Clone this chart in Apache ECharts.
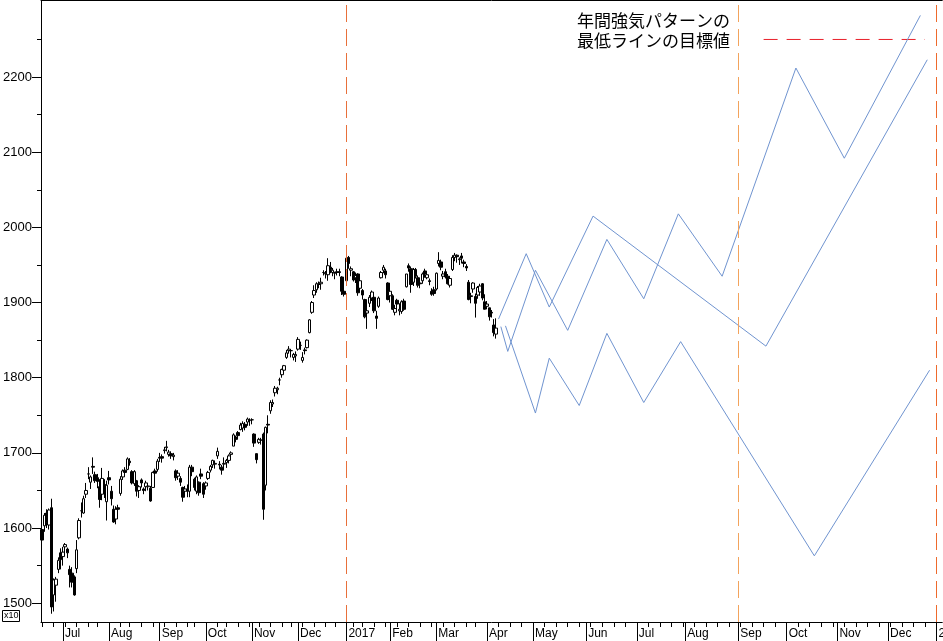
<!DOCTYPE html>
<html><head><meta charset="utf-8">
<script src="https://cdn.jsdelivr.net/npm/echarts@6/dist/echarts.min.js"></script>
<style>html,body{margin:0;padding:0;background:#fff}#c{width:943px;height:641px}</style>
</head><body><div id="c"></div>
<script>
// ---- axis data ----
const startDate = '2016-06-20';
const endDate = '2018-01-03';
const holidays = ['2016-07-18','2016-08-11','2016-09-19','2016-09-22','2016-10-10','2016-11-03','2016-11-23','2016-12-23','2017-01-02','2017-01-03','2017-01-09','2017-03-20'];
const monthNames = ['Jan','Feb','Mar','Apr','May','Jun','Jul','Aug','Sep','Oct','Nov','Dec'];
const yTickLabels = [1500,1600,1700,1800,1900,2000,2100,2200];
const yMinorTicks = [1550,1650,1750,1850,1950,2050,2150,2250];
const titleLines = ['年間強気パターンの','最低ラインの目標値'];
const unitLabel = 'x10';

// ---- daily candles: [date, open, close, low, high] (x10) ----
const candles = [
['2016-06-20',1598,1584,1580,1612],['2016-06-21',1603,1617,1595,1620],['2016-06-22',1620,1607,1600,1625],
['2016-06-23',1604,1624,1598,1626],['2016-06-24',1627,1495,1486,1639],['2016-06-27',1511,1531,1489,1533],
['2016-06-28',1524,1532,1502,1535],['2016-06-29',1545,1557,1540,1561],['2016-06-30',1567,1558,1545,1573],
['2016-07-01',1562,1568,1550,1575],['2016-07-04',1575,1578,1565,1580],['2016-07-05',1572,1567,1560,1574],
['2016-07-06',1545,1538,1521,1550],['2016-07-07',1540,1528,1521,1548],['2016-07-08',1535,1511,1510,1537],
['2016-07-11',1546,1571,1540,1584],['2016-07-12',1587,1610,1585,1613],['2016-07-13',1623,1623,1614,1634],
['2016-07-14',1620,1639,1619,1643],['2016-07-15',1645,1650,1640,1660],['2016-07-19',1672,1672,1665,1681],
['2016-07-20',1661,1668,1652,1670],['2016-07-21',1682,1681,1672,1694],['2016-07-22',1671,1663,1660,1675],
['2016-07-25',1667,1662,1653,1672],['2016-07-26',1655,1638,1627,1665],['2016-07-27',1645,1666,1637,1680],
['2016-07-28',1658,1648,1640,1665],['2016-07-29',1635,1657,1610,1663],
['2016-08-01',1667,1664,1658,1676],['2016-08-02',1649,1639,1630,1656],['2016-08-03',1625,1608,1607,1630],
['2016-08-04',1612,1625,1605,1629],['2016-08-05',1627,1625,1620,1631],['2016-08-08',1646,1665,1643,1669],
['2016-08-09',1668,1676,1664,1678],['2016-08-10',1677,1674,1669,1681],['2016-08-12',1678,1692,1677,1694],
['2016-08-15',1689,1687,1683,1693],['2016-08-16',1675,1660,1658,1677],['2016-08-17',1659,1675,1656,1677],
['2016-08-18',1663,1649,1642,1664],['2016-08-19',1650,1655,1640,1657],['2016-08-22',1664,1660,1654,1666],
['2016-08-23',1652,1650,1645,1654],['2016-08-24',1655,1660,1649,1663],['2016-08-25',1655,1656,1650,1660],
['2016-08-26',1653,1636,1635,1656],['2016-08-29',1654,1674,1654,1675],['2016-08-30',1676,1673,1667,1679],
['2016-08-31',1678,1689,1675,1692],
['2016-09-01',1694,1693,1688,1700],['2016-09-02',1695,1693,1687,1698],['2016-09-05',1703,1704,1699,1708],
['2016-09-06',1707,1708,1702,1716],['2016-09-07',1698,1701,1695,1704],['2016-09-08',1699,1696,1692,1702],
['2016-09-09',1695,1697,1690,1700],['2016-09-12',1676,1667,1663,1678],['2016-09-13',1669,1673,1664,1677],
['2016-09-14',1666,1661,1656,1669],['2016-09-15',1654,1641,1635,1655],['2016-09-16',1649,1652,1645,1656],
['2016-09-20',1652,1649,1641,1658],['2016-09-21',1649,1681,1641,1684],['2016-09-23',1681,1675,1669,1684],
['2016-09-26',1665,1654,1650,1667],['2016-09-27',1649,1668,1645,1670],['2016-09-28',1661,1647,1643,1662],
['2016-09-29',1672,1669,1665,1679],['2016-09-30',1659,1645,1640,1661],
['2016-10-03',1656,1660,1651,1662],['2016-10-04',1666,1674,1664,1676],['2016-10-05',1677,1682,1674,1684],
['2016-10-06',1684,1690,1680,1691],['2016-10-07',1685,1686,1679,1690],['2016-10-11',1696,1702,1692,1707],
['2016-10-12',1685,1684,1678,1689],['2016-10-13',1681,1677,1671,1684],['2016-10-14',1685,1686,1679,1694],
['2016-10-17',1687,1690,1680,1692],['2016-10-18',1690,1696,1686,1698],['2016-10-19',1698,1700,1692,1702],
['2016-10-20',1709,1724,1709,1726],['2016-10-21',1721,1718,1714,1723],['2016-10-24',1727,1723,1719,1729],
['2016-10-25',1731,1737,1730,1740],['2016-10-26',1733,1739,1728,1742],['2016-10-27',1738,1734,1730,1741],
['2016-10-28',1741,1745,1736,1747],['2016-10-31',1743,1743,1736,1746],
['2016-11-01',1744,1744,1738,1746],['2016-11-02',1725,1713,1708,1726],['2016-11-04',1699,1691,1686,1699],
['2016-11-07',1714,1718,1712,1720],['2016-11-08',1717,1717,1711,1720],['2016-11-09',1725,1625,1611,1727],
['2016-11-10',1657,1734,1650,1735],['2016-11-11',1738,1737,1726,1750],['2016-11-14',1756,1767,1752,1770],
['2016-11-15',1765,1767,1761,1771],['2016-11-16',1780,1786,1775,1789],['2016-11-17',1784,1786,1778,1788],
['2016-11-18',1797,1797,1790,1800],['2016-11-21',1804,1811,1800,1812],['2016-11-22',1810,1816,1806,1817],
['2016-11-24',1827,1833,1825,1837],['2016-11-25',1836,1838,1832,1842],['2016-11-28',1836,1836,1827,1838],
['2016-11-29',1827,1831,1823,1833],['2016-11-30',1829,1831,1821,1835],
['2016-12-01',1838,1851,1836,1854],['2016-12-02',1843,1843,1837,1848],['2016-12-05',1823,1827,1820,1834],
['2016-12-06',1837,1836,1831,1840],['2016-12-07',1840,1850,1839,1851],['2016-12-08',1860,1877,1859,1878],
['2016-12-09',1887,1900,1885,1902],['2016-12-12',1910,1916,1906,1923],['2016-12-13',1917,1925,1913,1927],
['2016-12-14',1924,1925,1919,1928],['2016-12-15',1925,1927,1917,1933],['2016-12-16',1940,1940,1936,1943],
['2016-12-19',1938,1939,1932,1942],['2016-12-20',1937,1949,1929,1959],['2016-12-21',1947,1944,1939,1954],
['2016-12-22',1940,1943,1935,1946],['2016-12-26',1939,1940,1931,1941],['2016-12-27',1941,1940,1936,1945],
['2016-12-28',1941,1940,1935,1945],['2016-12-29',1934,1915,1910,1935],['2016-12-30',1915,1911,1908,1922],
['2017-01-04',1929,1959,1928,1962],['2017-01-05',1960,1952,1945,1962],['2017-01-06',1943,1945,1935,1948],
['2017-01-10',1941,1930,1928,1942],['2017-01-11',1933,1936,1926,1940],['2017-01-12',1938,1913,1909,1939],
['2017-01-13',1919,1929,1916,1931],['2017-01-16',1916,1910,1904,1918],['2017-01-17',1904,1881,1879,1905],
['2017-01-18',1886,1889,1865,1893],['2017-01-19',1899,1907,1894,1910],['2017-01-20',1906,1914,1902,1916],
['2017-01-23',1907,1889,1886,1908],['2017-01-24',1882,1879,1865,1889],['2017-01-25',1895,1906,1893,1908],
['2017-01-26',1933,1940,1932,1942],['2017-01-27',1943,1947,1939,1950],['2017-01-30',1942,1937,1932,1945],
['2017-01-31',1926,1904,1903,1927],
['2017-02-01',1909,1915,1900,1917],['2017-02-02',1909,1891,1890,1911],['2017-02-03',1887,1892,1883,1897],
['2017-02-06',1903,1898,1889,1905],['2017-02-07',1889,1891,1883,1899],['2017-02-08',1888,1901,1885,1903],
['2017-02-09',1902,1891,1889,1905],['2017-02-10',1921,1938,1920,1938],['2017-02-13',1949,1946,1941,1952],
['2017-02-14',1945,1924,1913,1948],['2017-02-15',1927,1944,1922,1946],['2017-02-16',1944,1935,1932,1946],
['2017-02-17',1933,1923,1920,1936],['2017-02-20',1926,1925,1919,1929],['2017-02-21',1929,1938,1925,1940],
['2017-02-22',1942,1938,1933,1945],['2017-02-23',1933,1937,1931,1942],['2017-02-24',1929,1928,1923,1932],
['2017-02-27',1915,1911,1909,1919],['2017-02-28',1917,1912,1909,1921],
['2017-03-01',1918,1939,1916,1940],['2017-03-02',1952,1956,1948,1967],['2017-03-03',1954,1947,1943,1957],
['2017-03-06',1935,1938,1931,1942],['2017-03-07',1941,1934,1932,1945],['2017-03-08',1935,1925,1924,1938],
['2017-03-09',1923,1932,1920,1935],['2017-03-10',1944,1960,1942,1963],['2017-03-13',1960,1963,1955,1966],
['2017-03-14',1963,1961,1953,1964],['2017-03-15',1957,1958,1950,1960],['2017-03-16',1962,1959,1952,1966],
['2017-03-17',1954,1952,1947,1957],['2017-03-21',1948,1946,1942,1951],['2017-03-22',1927,1904,1903,1930],
['2017-03-23',1908,1909,1899,1913],['2017-03-24',1918,1926,1913,1927],['2017-03-27',1908,1899,1880,1912],
['2017-03-28',1910,1920,1905,1922],['2017-03-29',1914,1922,1909,1925],['2017-03-30',1925,1906,1903,1926],
['2017-03-31',1901,1891,1891,1911],
['2017-04-03',1895,1898,1891,1902],['2017-04-04',1893,1881,1876,1893],['2017-04-05',1887,1886,1880,1890],
['2017-04-06',1870,1860,1855,1878],['2017-04-07',1858,1866,1852,1879]
];

// ---- annual bullish pattern projections: [date, value] ----
const patternA = [['2017-04-10',1878],['2017-04-26',1965],['2017-05-10',1894],['2017-06-06',2015],['2017-09-19',1842],['2017-12-26',2223]];
const patternB = [['2017-04-11',1868],['2017-04-14',1835],['2017-05-02',1943],['2017-05-22',1863],['2017-06-14',1984],['2017-07-06',1905],['2017-07-27',2018],['2017-08-23',1935],['2017-10-06',2212],['2017-11-06',2092],['2017-12-21',2282]];
const patternC = [['2017-04-13',1869],['2017-05-02',1753],['2017-05-10',1826],['2017-05-29',1763],['2017-06-14',1859],['2017-07-06',1767],['2017-07-28',1848],['2017-10-18',1563],['2017-12-27',1810]];
const targetLine = [['2017-09-18',2250],['2017-12-25',2250]];
const markerDates = ['2017-01-04','2017-09-01','2018-01-01'];
const markerColors = ['#e8703a','#f3a35c','#ee6a2c'];

// ---- build category axis (trading days, then weekdays) ----
function fmt(d){ return d.toISOString().slice(0,10); }
const categories = [];
for (let d = new Date(startDate + 'T00:00:00Z'); fmt(d) <= endDate; d.setUTCDate(d.getUTCDate() + 1)) {
  const w = d.getUTCDay();
  if (w === 0 || w === 6) continue;
  const s = fmt(d);
  if (holidays.indexOf(s) >= 0) continue;
  categories.push(s);
}
const dow = s => new Date(s + 'T00:00:00Z').getUTCDay();
const isMonthStart = categories.map((c, i) => i > 0 && c.slice(0,7) !== categories[i-1].slice(0,7));
const isWeekStart = categories.map((c, i) => i === 0 || dow(c) <= dow(categories[i-1]));
const byDate = {};
candles.forEach(r => { byDate[r[0]] = [r[1], r[2], r[3], r[4]]; });
const candleData = categories.map(c => byDate[c] || ['-','-','-','-']);

const Y_MIN = 1475, Y_MAX = 2302.5;
const BLUE = '#7094d0';

const chart = echarts.init(document.getElementById('c'), null, {renderer: 'canvas'});
chart.setOption({
  animation: false,
  backgroundColor: '#fff',
  grid: {left: 41, top: 0, width: 901.26, bottom: 19, outerBoundsMode: 'none', containLabel: false},
  xAxis: [
    {type: 'category', data: categories, boundaryGap: true, position: 'bottom',
     axisLine: {show: true, lineStyle: {color: '#000', width: 1}},
     axisTick: {show: true, alignWithLabel: true, length: 19, interval: (i) => isMonthStart[i], lineStyle: {color: '#000'}},
     axisLabel: {show: true, interval: (i) => isMonthStart[i], align: 'left', margin: 5,
       fontSize: 12, fontFamily: 'Arial, "Liberation Sans", sans-serif', color: '#000', lineHeight: 14,
       padding: [0, 0, 0, 2], hideOverlap: false,
       formatter: (v) => { const m = +v.slice(5,7); return m === 1 ? v.slice(0,4) : monthNames[m-1]; }},
     splitLine: {show: false}},
    {type: 'category', data: categories, boundaryGap: true, position: 'bottom',
     axisLine: {show: false},
     axisTick: {show: true, alignWithLabel: true, length: 5, interval: (i) => isWeekStart[i] && !isMonthStart[i], lineStyle: {color: '#000'}},
     axisLabel: {show: false}, splitLine: {show: false}},
    {type: 'category', data: categories, boundaryGap: true, position: 'top',
     axisLine: {show: true, lineStyle: {color: '#000', width: 1}},
     axisTick: {show: false}, axisLabel: {show: false}, splitLine: {show: false}}
  ],
  yAxis: [
    {type: 'value', min: Y_MIN, max: Y_MAX, position: 'left',
     axisLine: {show: true, lineStyle: {color: '#000', width: 1}},
     axisTick: {show: true, length: 9, customValues: yTickLabels, lineStyle: {color: '#000'}},
     axisLabel: {show: true, customValues: yTickLabels, margin: 9, fontSize: 13,
       fontFamily: 'Arial, "Liberation Sans", sans-serif', color: '#000',
       formatter: (v) => String(Math.round(v))},
     splitLine: {show: false}},
    {type: 'value', min: Y_MIN, max: Y_MAX, position: 'left',
     axisLine: {show: false},
     axisTick: {show: true, length: 4, customValues: yMinorTicks, lineStyle: {color: '#000'}},
     axisLabel: {show: false}, splitLine: {show: false}}
  ],
  series: [
    {type: 'candlestick', name: 'price', data: candleData, xAxisIndex: 0, yAxisIndex: 0,
     barWidth: 3,
     itemStyle: {color: '#fff', color0: '#000', borderColor: '#000', borderColor0: '#000', borderWidth: 1},
     markLine: {silent: true, symbol: 'none', label: {show: false},
       lineStyle: {type: [17, 7], width: 1},
       data: markerDates.map((d, i) => ({xAxis: d, lineStyle: {color: markerColors[i], type: [17, 7], width: 1}}))}},
    {type: 'line', data: patternA, symbol: 'none', lineStyle: {color: BLUE, width: 1}, z: 3},
    {type: 'line', data: patternB, symbol: 'none', lineStyle: {color: BLUE, width: 1}, z: 3},
    {type: 'line', data: patternC, symbol: 'none', lineStyle: {color: BLUE, width: 1}, z: 3},
    {type: 'line', data: targetLine, symbol: 'none', lineStyle: {color: '#e8202a', type: [14, 9], width: 1}, z: 2}
  ],
  graphic: [
    {type: 'text', left: 577, top: 11, z: 10,
     style: {text: titleLines.join('\n'), font: '17px "Noto Sans CJK JP"', fill: '#000', lineHeight: 20}},
    {type: 'group', left: 2, top: 610, z: 10, children: [
      {type: 'rect', shape: {x: 0.5, y: 0.5, width: 17, height: 11}, style: {fill: '#fff', stroke: '#000', lineWidth: 1}},
      {type: 'text', x: 2, y: 1.5, style: {text: unitLabel, font: '9px Arial', fill: '#000'}}
    ]}
  ]
});
</script></body></html>
